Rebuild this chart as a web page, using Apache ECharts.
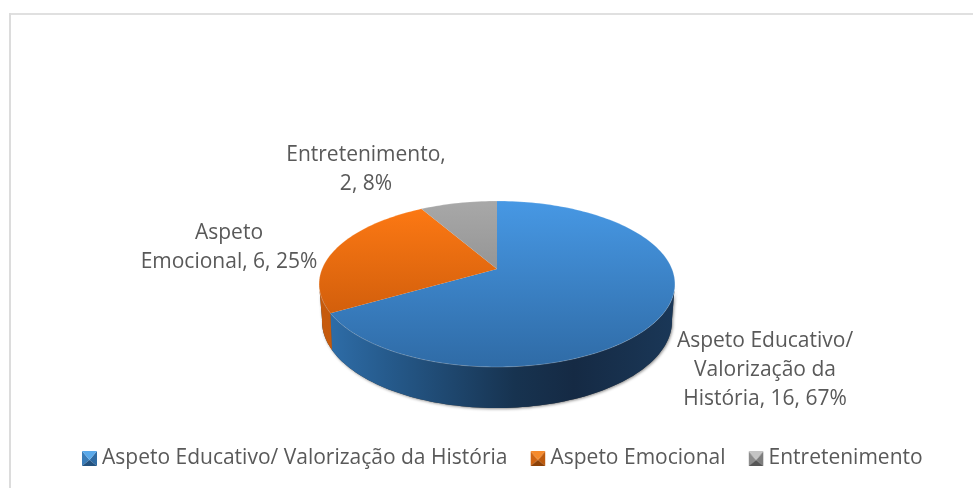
<!DOCTYPE html>
<html>
<head>
<meta charset="utf-8">
<style>html,body{margin:0;padding:0;background:#fff}#c{width:973px;height:488px}</style>
<script src="https://cdn.jsdelivr.net/npm/echarts@6/dist/echarts.min.js"></script>
</head>
<body>
<div id="c"></div>
<script>
const categories = ['Aspeto Educativo/ Valorização da História', 'Aspeto Emocional', 'Entretenimento'];
const values = [16, 6, 2];
const percents = ['67%', '25%', '8%'];
const labelBreaks = [
  ['Aspeto Educativo/', 'Valorização da', 'História, {v}, {p}'],
  ['Aspeto', 'Emocional, {v}, {p}'],
  ['Entretenimento,', '{v}, {p}']
];

// Projection of the tilted disc: top face and lower rim
const CX = 497, HUB = 269;
const TOP = { r: 175, a: 31.7, b: 269, c: -0.1807 };
const LOW = { r: 171.5, a: 22.8, b: 303.6, c: -0.2 };
// Angles of the left and right silhouette of the disc: only the wall between them faces the viewer
const WALL_FROM = Math.acos(TOP.c) * 180 / Math.PI;
const WALL_TO = 360 - WALL_FROM;
const LABEL_POS = [[765, 370], [229, 247.5], [366, 169.5]];
const FONT = '"Open Sans", sans-serif';
const FONT_SIZE = 21;
const TEXT = '#595959';
const topColors = [['#4798e4', '#2f6ba6'], ['#ff7a14', '#bd5208'], ['#a8a8a8', '#7a7a7a']];
const wallColors = [
  [[0, '#2f6fab'], [0.2, '#25598a'], [0.55, '#173350'], [0.72, '#152a44'], [1, '#1a3757']],
  [[0, '#c65a0c'], [1, '#b04c08']],
  [[0, '#777777'], [1, '#555555']]
];
// top, left, right, bottom facets of the bevelled legend keys
const legendFacets = [
  ['#5aa9ea', '#3a7cb8', '#2f6ba3', '#23527f'],
  ['#f58a2c', '#cf6412', '#bd5a0d', '#8d4106'],
  ['#c4c4c4', '#8c8c8c', '#7d7d7d', '#565656']
];

const total = values.reduce((a, b) => a + b, 0);
function project(deg, p) {
  const t = deg * Math.PI / 180, u = Math.sin(t), v = -Math.cos(t), w = 1 + p.c * v;
  return [CX + p.r * u / w, (p.a * v + p.b) / w];
}
function arc(a0, a1, p) {
  const pts = [], n = Math.max(2, Math.ceil((a1 - a0) / 1.5));
  for (let i = 0; i <= n; i++) pts.push(project(a0 + (a1 - a0) * i / n, p));
  return pts;
}
function vGrad(c) {
  return { type: 'linear', global: true, x: 0, y: 201, x2: 0, y2: 367,
    colorStops: [{ offset: 0, color: c[0] }, { offset: 1, color: c[1] }] };
}
function hGrad(stops) {
  return { type: 'linear', global: true, x: 322, y: 0, x2: 672, y2: 0,
    colorStops: stops.map(s => ({ offset: s[0], color: s[1] })) };
}
function keyPattern(f) {
  const s = 15, cv = document.createElement('canvas');
  cv.width = s; cv.height = s;
  const g = cv.getContext('2d');
  const tri = (pts, col) => { g.fillStyle = col; g.beginPath(); g.moveTo(pts[0][0], pts[0][1]); g.lineTo(pts[1][0], pts[1][1]); g.lineTo(pts[2][0], pts[2][1]); g.closePath(); g.fill(); };
  const m = [s / 2, s / 2 + 1.5];
  tri([[0, s], [0, 0], m], f[1]);
  tri([[s, 0], [s, s], m], f[2]);
  tri([[0, s], [s, s], m], f[3]);
  tri([[0, 0], [s, 0], m], f[0]);
  return { image: cv, repeat: 'no-repeat' };
}
function renderSlice(index) {
  return function (params, api) {
    const val = api.value(0);
    const before = values.slice(0, index).reduce((a, b) => a + b, 0);
    const a0 = before / total * 360, a1 = (before + val) / total * 360;
    const rim = arc(a0, a1, TOP);
    const lines = labelBreaks[index].map(l => l.replace('{v}', val).replace('{p}', percents[index]));
    const children = [];
    const w0 = Math.max(a0, WALL_FROM), w1 = Math.min(a1, WALL_TO);
    if (w1 > w0) {
      const wall = arc(w0, w1, TOP).concat(arc(w0, w1, LOW).reverse());
      children.push(
        { type: 'polygon', z2: 0, shape: { points: wall },
          style: { fill: '#444444', shadowBlur: 3, shadowColor: 'rgba(0,0,0,0.45)', shadowOffsetX: 1, shadowOffsetY: 1 } },
        { type: 'polygon', z2: 1, shape: { points: wall },
          style: { fill: hGrad(wallColors[index]) } }
      );
    }
    children.push(
      { type: 'polygon', z2: 2, shape: { points: [[CX, HUB]].concat(rim) },
        style: { fill: vGrad(topColors[index]) } },
      { type: 'polyline', z2: 3, shape: { points: rim },
        style: { fill: null, stroke: 'rgba(255,255,255,0.2)', lineWidth: 1 } },
      { type: 'text', z2: 4, x: LABEL_POS[index][0], y: LABEL_POS[index][1],
        style: { text: lines.join('\n'), font: FONT_SIZE + 'px ' + FONT, fill: TEXT,
          align: 'center', verticalAlign: 'middle', lineHeight: 29 } }
    );
    return { type: 'group', children };
  };
}
const chart = echarts.init(document.getElementById('c'), null, { renderer: 'canvas' });
chart.setOption({
  animation: false,
  backgroundColor: '#ffffff',
  graphic: [
    { type: 'line', shape: { x1: 9, y1: 14, x2: 973, y2: 14 }, style: { stroke: '#d6d6d6', lineWidth: 1.5 } },
    { type: 'line', shape: { x1: 10, y1: 13, x2: 10, y2: 488 }, style: { stroke: '#dcdcdc', lineWidth: 2 } }
  ],
  legend: {
    left: 82, top: 448, padding: 0, itemWidth: 15, itemHeight: 15, itemGap: 23, selectedMode: false,
    textStyle: { fontFamily: FONT, fontSize: FONT_SIZE, color: TEXT, padding: [0, 0, 0, 0] },
    data: categories.map((name, i) => ({
      name, icon: 'rect', itemStyle: { color: keyPattern(legendFacets[i]) }
    }))
  },
  series: categories.map((name, i) => ({
    type: 'custom', name, coordinateSystem: 'none', silent: true,
    data: [[values[i]]], renderItem: renderSlice(i)
  }))
});
</script>
</body>
</html>
